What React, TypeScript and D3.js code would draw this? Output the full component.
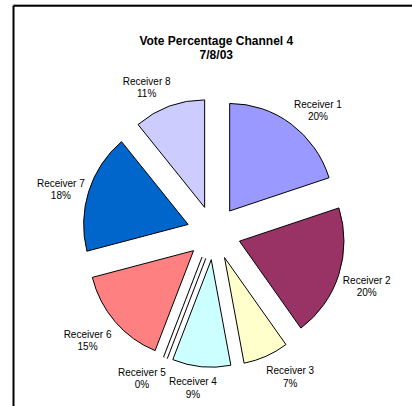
import React from "react";
import * as d3 from "d3";

const categories = ["Receiver 1", "Receiver 2", "Receiver 3", "Receiver 4", "Receiver 5", "Receiver 6", "Receiver 7", "Receiver 8"];
const percentages = [20, 20, 7, 9, 0, 15, 18, 11];
const sliceColors = ["#9999FF", "#993366", "#FFFFCC", "#CCFFFF", "#660066", "#FF8080", "#0066CC", "#CCCCFF"];
const titleLines = ["Vote Percentage Channel 4", "7/8/03"];

const W = 412;
const H = 406;
const CX = 213.8;
const CY = 232.8;
const RX = 104.5;
const RY = 107.5;
const EXPLODE = 27;
const FONT = "'Liberation Sans', Arial, Helvetica, sans-serif";

export default function App() {
  const pie = d3
    .pie<number>()
    .sort(null)
    .value((d) => d)
    .startAngle(0)
    .endAngle(2 * Math.PI);
  const arcs = pie(percentages);
  const arc = d3.arc<d3.PieArcDatum<number>>().innerRadius(0).outerRadius(RX);
  const k = RY / RX;
  const line = d3.line();

  return (
    <svg
      width={W}
      height={H}
      style={{ position: "absolute", left: 0, top: 0, background: "#fff" }}
    >
      <rect x={0} y={0} width={W} height={H} fill="#fff" />
      {/* frame */}
      <line x1={13.5} y1={5.75} x2={W + 5} y2={5.75} stroke="#000" strokeWidth={2} />
      <line x1={13.5} y1={5.75} x2={13.5} y2={H + 5} stroke="#000" strokeWidth={2} />
      <line x1={12.5} y1={4.5} x2={W + 5} y2={4.5} stroke="#999" strokeWidth={0.6} />

      {/* title */}
      <text
        x={216.3}
        textAnchor="middle"
        fontFamily={FONT}
        fontWeight="bold"
        fontSize={12}
        fill="#000"
      >
        <tspan x={216.3} y={44.5}>{titleLines[0]}</tspan>
        <tspan x={216.3} y={59}>{titleLines[1]}</tspan>
      </text>

      {arcs.map((a, i) => {
        const mid = (a.startAngle + a.endAngle) / 2;
        const dx = Math.sin(mid);
        const dy = -Math.cos(mid);
        const ox = CX + EXPLODE * dx;
        const oy = CY + EXPLODE * dy;
        return (
          <g key={categories[i]} transform={`translate(${ox},${oy}) scale(1,${k})`}>
            {a.value === 0 ? (
              <>
                <path
                  d={line([[0, 0], [RX * dx, RX * dy]]) || ""}
                  stroke="#000"
                  strokeWidth={5}
                  fill="none"
                  vectorEffect="non-scaling-stroke"
                />
                <path
                  d={line([[0, 0], [RX * dx, RX * dy]]) || ""}
                  stroke="#fff"
                  strokeWidth={3}
                  fill="none"
                  vectorEffect="non-scaling-stroke"
                />
              </>
            ) : (
              <path
                d={arc(a) || ""}
                fill={sliceColors[i]}
                stroke="#000"
                strokeWidth={1}
                strokeLinejoin="miter"
                vectorEffect="non-scaling-stroke"
              />
            )}
          </g>
        );
      })}

      {arcs.map((a, i) => {
        const mid = (a.startAngle + a.endAngle) / 2;
        const dx = Math.sin(mid);
        const dy = -Math.cos(mid);
        const px = CX + (RX + EXPLODE) * dx;
        const py = CY + (RY + EXPLODE) * dy;
        const lx = px + 28 * Math.tanh(3.3 * dx);
        const ly = py + (dy > 0 ? 22 * Math.tanh(2 * dy) : -21 * dy * dy);
        return (
          <text
            key={"l" + categories[i]}
            textAnchor="middle"
            fontFamily={FONT}
            fontSize={10}
            fill="#000"
          >
            <tspan x={lx} y={ly - 2.65}>{categories[i]}</tspan>
            <tspan x={lx} y={ly + 9.65}>{`${a.value}%`}</tspan>
          </text>
        );
      })}
    </svg>
  );
}
